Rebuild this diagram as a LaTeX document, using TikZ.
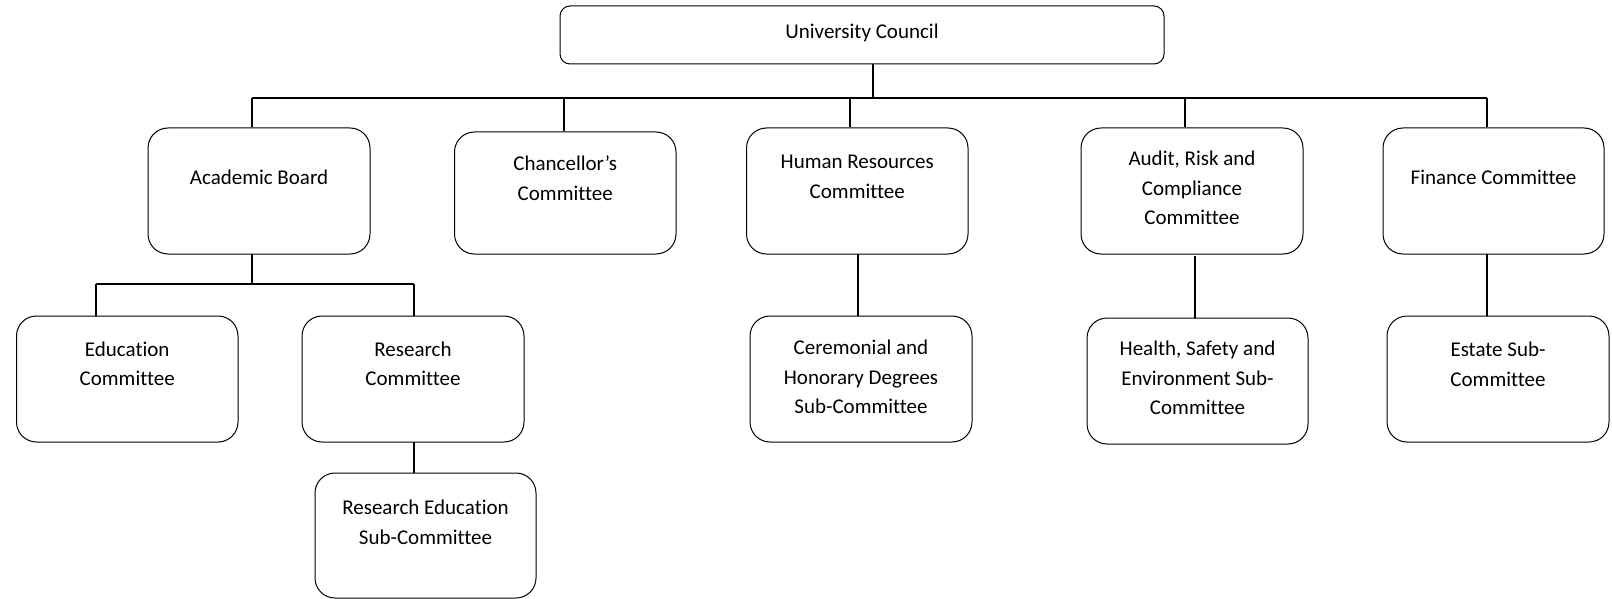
\documentclass[tikz,border=0pt]{standalone}
\usepackage{fontspec}
\setmainfont[Ligatures={NoCommon}]{Carlito}
\begin{document}
\begin{tikzpicture}[x=1pt,y=-1pt,
  boxst/.style={draw=black, line width=1pt, rounded corners=20pt, inner sep=0pt},
  topbox/.style={draw=black, line width=1pt, rounded corners=10pt, inner sep=0pt},
  txt/.style={align=center, inner sep=0pt, font=\fontsize{21}{29.5}\selectfont},
  conn/.style={draw=black, line width=1.8pt},
  ]
\useasboundingbox (0,0) rectangle (1612,599);
% boxes: centre x, centre y, width, height
\node[topbox, minimum width=604pt, minimum height=58pt] (uc) at (862,35) {};
\node[txt] (uct) at (862,33) {University Council};

\node[boxst, minimum width=222pt, minimum height=126pt] (ab) at (259,191) {};
\node[txt] (abt) at (259,177) {Academic Board};

\node[boxst, minimum width=221.5pt, minimum height=122pt] (ch) at (565.25,193) {};
\node[txt] (cht) at (565.25,178) {Chancellor’s\\Committee};

\node[boxst, minimum width=221.5pt, minimum height=126pt] (hr) at (857.25,191) {};
\node[txt] (hrt) at (857.25,177) {Human Resources\\Committee};

\node[boxst, minimum width=222pt, minimum height=126pt] (ar) at (1192,191) {};
\node[txt] (art) at (1192,188) {Audit, Risk and\\Compliance\\Committee};

\node[boxst, minimum width=221pt, minimum height=126pt] (fc) at (1493.5,191) {};
\node[txt] (fct) at (1493.5,177) {Finance Committee};

\node[boxst, minimum width=221.5pt, minimum height=126pt] (ed) at (127.25,379) {};
\node[txt] (edt) at (127.25,364) {Education\\Committee};

\node[boxst, minimum width=222pt, minimum height=126pt] (rc) at (413,379) {};
\node[txt] (rct) at (413,364) {Research\\Committee};

\node[boxst, minimum width=221pt, minimum height=125pt] (res) at (425.5,535.5) {};
\node[txt] (rest) at (425.5,522.5) {Research Education\\Sub-Committee};

\node[boxst, minimum width=222pt, minimum height=126pt] (cer) at (861,379) {};
\node[txt] (cert) at (861,377) {Ceremonial and\\Honorary Degrees\\Sub-Committee};

\node[boxst, minimum width=221pt, minimum height=126pt] (hs) at (1197.5,381) {};
\node[txt] (hst) at (1197.5,378) {Health, Safety and\\Environment Sub-\\Committee};

\node[boxst, minimum width=222pt, minimum height=126pt] (es) at (1498,379) {};
\node[txt] (est) at (1498,364.5) {Estate Sub-\\Committee};

% bus coordinates
\coordinate (u0) at (873,64);
\coordinate (b0) at (873,97.7);
\coordinate (b1) at (252,97.7);
\coordinate (b2) at (564,97.7);
\coordinate (b3) at (850,97.7);
\coordinate (b4) at (1185,97.7);
\coordinate (b5) at (1487,97.7);

\draw[conn] (u0) -- (b0);
\draw[conn] (b1) -- (b5);
\draw[conn] (b1) -- (b1 |- ab.north);
\draw[conn] (b2) -- (b2 |- ch.north);
\draw[conn] (b3) -- (b3 |- hr.north);
\draw[conn] (b4) -- (b4 |- ar.north);
\draw[conn] (b5) -- (b5 |- fc.north);

% academic sub-bus
\coordinate (a0) at (252,254);
\coordinate (s0) at (252,284);
\coordinate (s1) at (95.6,284);
\coordinate (s2) at (414,284);
\draw[conn] (a0) -- (s0);
\draw[conn] (s1) -- (s2);
\draw[conn] (s1) -- (s1 |- ed.north);
\draw[conn] (s2) -- (s2 |- rc.north);

\coordinate (r0) at (414,442);
\draw[conn] (r0) -- (r0 |- res.north);

\coordinate (h0) at (858,254);
\draw[conn] (h0) -- (h0 |- cer.north);
\coordinate (h1) at (1195,256);
\draw[conn] (h1) -- (h1 |- hs.north);
\coordinate (h2) at (1487,254);
\draw[conn] (h2) -- (h2 |- es.north);
\end{tikzpicture}
\end{document}
